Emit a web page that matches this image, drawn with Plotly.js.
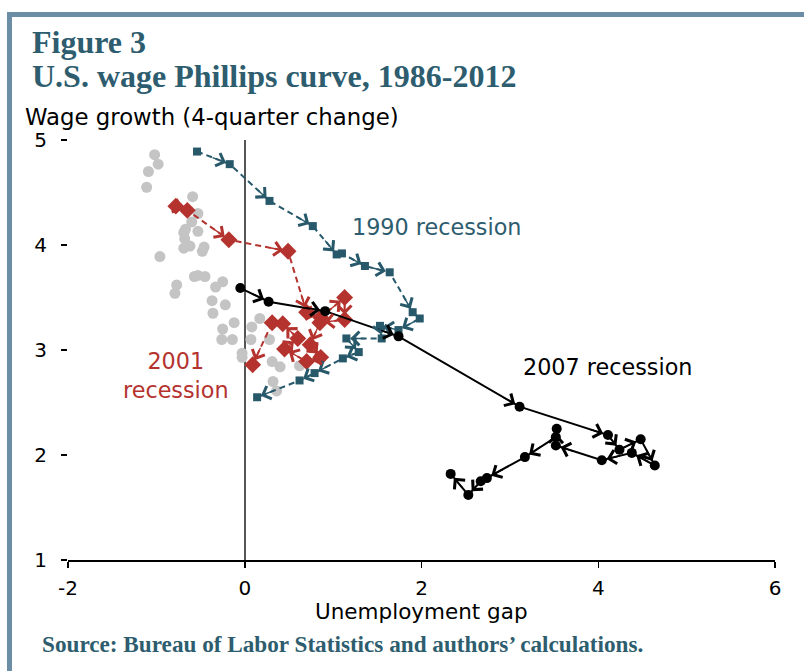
<!DOCTYPE html>
<html><head><meta charset="utf-8">
<script src="https://cdn.plot.ly/plotly-3.0.1.min.js"></script>
<style>
body{margin:0;padding:0;background:#fff;}
#wrap{position:relative;width:804px;height:671px;overflow:hidden;}
#chart{width:804px;height:671px;}
#frame{position:absolute;left:7px;top:12px;width:830px;height:700px;border-top:5px solid #6b8ea6;border-left:5px solid #6b8ea6;pointer-events:none;}
</style></head><body>
<div id="wrap"><div id="chart"></div><div id="frame"></div></div>
<script>
// Other (non-recession) quarters
const otherGap = [-1.02,-0.98,-1.09,-1.11,-0.59,-0.53,-0.60,-0.53,-0.69,-0.67,-0.68,-0.69,-0.62,-0.46,-0.48,-0.96,-0.53,-0.57,-0.45,-0.77,-0.79,-0.33,-0.25,-0.37,-0.22,-0.36,-0.12,-0.25,-0.26,-0.14,-0.03,-0.03,0.17,0.08,0.07,0.28,0.31,0.40,0.62,0.32,0.36];
const otherWage = [4.86,4.77,4.70,4.55,4.46,4.30,4.22,4.13,4.12,4.15,4.06,3.97,3.99,3.98,3.94,3.89,3.71,3.70,3.70,3.62,3.54,3.60,3.65,3.47,3.43,3.35,3.26,3.20,3.10,3.10,2.97,2.93,3.30,3.22,3.10,3.10,2.89,2.84,2.85,2.70,2.61];
// 1990 recession
const gap1990 = [-0.54,-0.17,0.28,0.77,1.04,1.10,1.36,1.64,1.90,1.98,1.74,1.53,1.55,1.15,1.29,1.11,0.79,0.62,0.14];
const wage1990 = [4.89,4.77,4.42,4.18,3.91,3.92,3.80,3.74,3.36,3.30,3.19,3.23,3.11,3.11,2.98,2.92,2.78,2.71,2.55];
// 2001 recession
const gap2001 = [-0.78,-0.65,-0.18,0.49,0.70,0.86,1.13,1.13,0.85,0.74,0.86,0.70,0.45,0.60,0.43,0.31,0.09];
const wage2001 = [4.37,4.33,4.05,3.94,3.36,3.31,3.50,3.29,3.26,3.05,2.93,2.89,3.01,3.11,3.25,3.26,2.86];
// 2007 recession
const gap2007 = [-0.05,0.27,0.91,1.74,3.11,4.11,4.24,4.48,4.64,4.38,4.04,3.52,3.53,3.52,3.17,2.74,2.67,2.53,2.33];
const wage2007 = [3.59,3.46,3.37,3.13,2.46,2.19,2.05,2.15,1.90,2.02,1.95,2.09,2.25,2.17,1.98,1.78,1.75,1.62,1.82];

const xTicks = [-2,0,2,4,6];
const yTicks = [1,2,3,4,5];
const labels = {
  fig: 'Figure 3',
  title: 'U.S. wage Phillips curve, 1986-2012',
  ytitle: 'Wage growth (4-quarter change)',
  xtitle: 'Unemployment gap',
  source: 'Source: Bureau of Labor Statistics and authors\u2019 calculations.',
  r1990: '1990 recession', r2001: '2001<br>recession', r2007: '2007 recession'
};

const W = 804, H = 671;
const M = {l:68, r:29, t:140, b:111};
const xRange = [-2,6], yRange = [1,5];
const PW = W - M.l - M.r, PH = H - M.t - M.b;

const BLUE = '#28596b', RED = '#b5332e', GRAY = '#c4c4c4', TEAL = '#2d5d6e';
const SANS = 'DejaVu Sans, Verdana, sans-serif';
const SERIF = 'Liberation Serif, Times New Roman, serif';

function arrowAnns(xs, ys, color, standoff, width, size) {
  const sx = PW/(xRange[1]-xRange[0]), sy = PH/(yRange[1]-yRange[0]);
  const out = [];
  for (let i=1;i<xs.length;i++){
    const dx=(xs[i]-xs[i-1])*sx, dy=-(ys[i]-ys[i-1])*sy;
    const len=Math.hypot(dx,dy); if(len<3) continue;
    const L=Math.min(len, 20);
    out.push({x:xs[i],y:ys[i],xref:'x',yref:'y',text:'',showarrow:true,arrowhead:4,
      arrowsize:size,arrowwidth:width,arrowcolor:color,standoff:standoff,
      ax:-dx/len*L, ay:-dy/len*L});
  }
  return out;
}

const traces = [
  {x:otherGap,y:otherWage,mode:'markers',type:'scatter',marker:{color:GRAY,size:11},hoverinfo:'skip'},
  {x:gap1990,y:wage1990,mode:'lines+markers',type:'scatter',line:{color:BLUE,width:2,dash:'6px,4px'},marker:{symbol:'square',color:BLUE,size:8}},
  {x:gap2001,y:wage2001,mode:'lines+markers',type:'scatter',line:{color:RED,width:2,dash:'6px,4px'},marker:{symbol:'diamond',color:RED,size:13}},
  {x:gap2007,y:wage2007,mode:'lines+markers',type:'scatter',line:{color:'#000',width:2},marker:{symbol:'circle',color:'#000',size:10}}
];

const anns = [].concat(
  arrowAnns(gap1990, wage1990, BLUE, 4, 1.4, 1.9),
  arrowAnns(gap2001, wage2001, RED, 5, 1.4, 1.9),
  arrowAnns(gap2007, wage2007, '#000', 5, 1.5, 1.8),
  [
    {xref:'paper',yref:'paper',x:(30-M.l)/PW,y:(H-M.b-42)/PH,xanchor:'left',yanchor:'middle',showarrow:false,text:'<b>'+labels.fig+'</b>',font:{family:SERIF,size:32,color:TEAL}},
    {xref:'paper',yref:'paper',x:(30-M.l)/PW,y:(H-M.b-76)/PH,xanchor:'left',yanchor:'middle',showarrow:false,text:'<b>'+labels.title+'</b>',font:{family:SERIF,size:32,color:TEAL}},
    {xref:'paper',yref:'paper',x:(23-M.l)/PW,y:(H-M.b-117)/PH,xanchor:'left',yanchor:'middle',showarrow:false,text:labels.ytitle,font:{family:SANS,size:22.8,color:'#000'}},
    {xref:'paper',yref:'paper',x:(40-M.l)/PW,y:(H-M.b-644)/PH,xanchor:'left',yanchor:'middle',showarrow:false,text:'<b>'+labels.source+'</b>',font:{family:SERIF,size:23.2,color:TEAL}},
    {xref:'paper',yref:'paper',x:0.5,y:(H-M.b-611)/PH,xanchor:'center',yanchor:'middle',showarrow:false,text:labels.xtitle,font:{family:SANS,size:21.5,color:'#000'}},
    {xref:'x',yref:'y',x:2.17,y:4.17,showarrow:false,text:labels.r1990,font:{family:SANS,size:22.3,color:TEAL}},
    {xref:'x',yref:'y',x:-0.78,y:2.757,showarrow:false,text:labels.r2001,font:{family:SANS,size:22.3,color:RED}},
    {xref:'x',yref:'y',x:4.10,y:2.84,showarrow:false,text:labels.r2007,font:{family:SANS,size:22.3,color:'#000'}}
  ]
);

const layout = {
  width:W, height:H, margin:M, showlegend:false,
  paper_bgcolor:'#fff', plot_bgcolor:'#fff',
  font:{family:SANS,size:21,color:'#000'},
  xaxis:{range:xRange,autorange:false,tickvals:xTicks,ticktext:xTicks.map(String),showgrid:false,
    zeroline:true,zerolinecolor:'#555',zerolinewidth:1.5,showline:true,linecolor:'#000',linewidth:2,
    ticks:'outside',ticklen:6,tickwidth:1.5,tickcolor:'#000',ticklabelstandoff:3,tickfont:{size:20}},
  yaxis:{range:yRange,autorange:false,tickvals:yTicks,ticktext:yTicks.map(String),showgrid:false,
    zeroline:false,showline:false,ticks:'outside',ticklen:6,tickwidth:1.5,tickcolor:'#000',ticklabelstandoff:10,tickfont:{size:20}},
  annotations:anns
};

Plotly.newPlot('chart', traces, layout, {staticPlot:true, displayModeBar:false});
</script>
</body></html>
